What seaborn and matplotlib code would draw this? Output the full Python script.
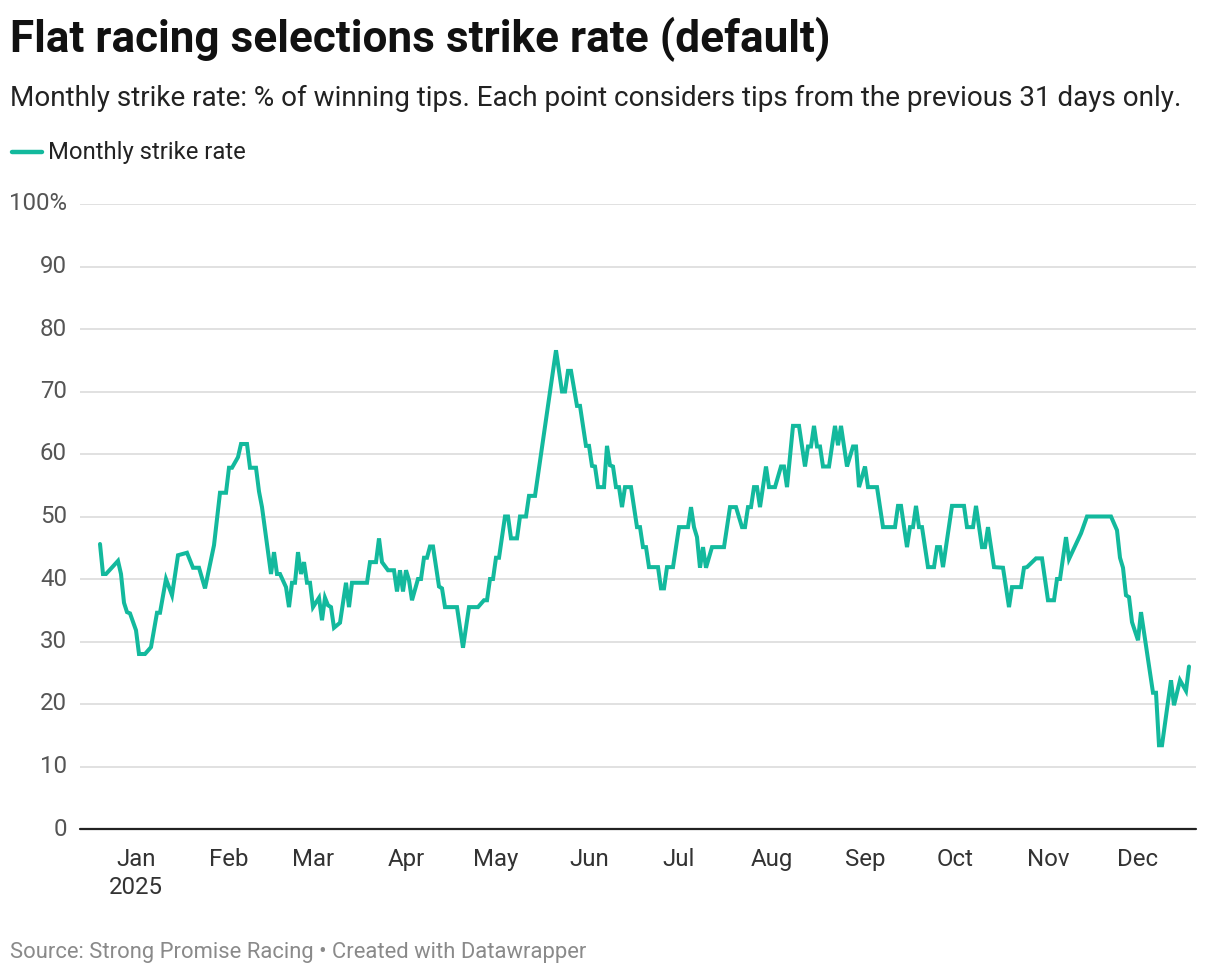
"""Flat racing selections strike rate chart"""
import matplotlib

matplotlib.use("Agg")
import matplotlib.pyplot as plt
import pandas as pd
import seaborn as sns

dates = [
    "2024-12-20", "2024-12-21", "2024-12-22", "2024-12-26", "2024-12-27", "2024-12-28",
    "2024-12-29", "2024-12-30", "2025-01-01", "2025-01-02", "2025-01-04", "2025-01-06",
    "2025-01-08", "2025-01-09", "2025-01-11", "2025-01-13", "2025-01-15", "2025-01-18",
    "2025-01-20", "2025-01-22", "2025-01-24", "2025-01-27", "2025-01-29", "2025-01-31",
    "2025-02-01", "2025-02-02", "2025-02-04", "2025-02-05", "2025-02-07", "2025-02-08",
    "2025-02-10", "2025-02-11", "2025-02-12", "2025-02-15", "2025-02-16", "2025-02-17",
    "2025-02-18", "2025-02-20", "2025-02-21", "2025-02-22", "2025-02-23", "2025-02-24",
    "2025-02-25", "2025-02-26", "2025-02-27", "2025-02-28", "2025-03-01", "2025-03-03",
    "2025-03-04", "2025-03-05", "2025-03-06", "2025-03-07", "2025-03-08", "2025-03-10",
    "2025-03-12", "2025-03-13", "2025-03-14", "2025-03-19", "2025-03-20", "2025-03-22",
    "2025-03-23", "2025-03-24", "2025-03-26", "2025-03-28", "2025-03-29", "2025-03-30",
    "2025-03-31", "2025-04-01", "2025-04-02", "2025-04-03", "2025-04-05", "2025-04-06",
    "2025-04-07", "2025-04-08", "2025-04-09", "2025-04-10", "2025-04-12", "2025-04-13",
    "2025-04-14", "2025-04-18", "2025-04-20", "2025-04-22", "2025-04-25", "2025-04-27",
    "2025-04-28", "2025-04-29", "2025-04-30", "2025-05-01", "2025-05-02", "2025-05-04",
    "2025-05-05", "2025-05-06", "2025-05-08", "2025-05-09", "2025-05-11", "2025-05-12",
    "2025-05-14", "2025-05-21", "2025-05-23", "2025-05-24", "2025-05-25", "2025-05-26",
    "2025-05-28", "2025-05-29", "2025-05-31", "2025-06-01", "2025-06-02", "2025-06-03",
    "2025-06-04", "2025-06-06", "2025-06-07", "2025-06-08", "2025-06-09", "2025-06-10",
    "2025-06-11", "2025-06-12", "2025-06-13", "2025-06-15", "2025-06-17", "2025-06-18",
    "2025-06-19", "2025-06-20", "2025-06-21", "2025-06-24", "2025-06-25", "2025-06-26",
    "2025-06-27", "2025-06-29", "2025-07-01", "2025-07-04", "2025-07-05", "2025-07-06",
    "2025-07-07", "2025-07-08", "2025-07-09", "2025-07-10", "2025-07-12", "2025-07-16",
    "2025-07-18", "2025-07-20", "2025-07-22", "2025-07-23", "2025-07-24", "2025-07-25",
    "2025-07-26", "2025-07-27", "2025-07-28", "2025-07-30", "2025-07-31", "2025-08-02",
    "2025-08-04", "2025-08-05", "2025-08-06", "2025-08-08", "2025-08-10", "2025-08-12",
    "2025-08-13", "2025-08-14", "2025-08-15", "2025-08-16", "2025-08-17", "2025-08-18",
    "2025-08-20", "2025-08-22", "2025-08-23", "2025-08-24", "2025-08-26", "2025-08-28",
    "2025-08-29", "2025-08-30", "2025-09-01", "2025-09-02", "2025-09-05", "2025-09-07",
    "2025-09-11", "2025-09-12", "2025-09-13", "2025-09-15", "2025-09-16", "2025-09-17",
    "2025-09-18", "2025-09-19", "2025-09-20", "2025-09-22", "2025-09-24", "2025-09-25",
    "2025-09-26", "2025-09-27", "2025-09-30", "2025-10-04", "2025-10-05", "2025-10-07",
    "2025-10-08", "2025-10-10", "2025-10-11", "2025-10-12", "2025-10-14", "2025-10-17",
    "2025-10-19", "2025-10-20", "2025-10-23", "2025-10-24", "2025-10-25", "2025-10-28",
    "2025-10-30", "2025-11-01", "2025-11-03", "2025-11-04", "2025-11-05", "2025-11-07",
    "2025-11-08", "2025-11-12", "2025-11-14", "2025-11-22", "2025-11-24", "2025-11-25",
    "2025-11-26", "2025-11-27", "2025-11-28", "2025-11-29", "2025-12-01", "2025-12-02",
    "2025-12-06", "2025-12-07", "2025-12-08", "2025-12-09", "2025-12-12", "2025-12-13",
    "2025-12-15", "2025-12-17", "2025-12-18",
]

strike_rate = [
    45.6, 40.8, 40.8, 42.9, 40.8, 36.2,
    34.7, 34.5, 31.8, 28.0, 28.0, 29.1,
    34.6, 34.6, 40.0, 37.4, 43.8, 44.2,
    41.8, 41.8, 38.5, 45.4, 53.8, 53.8,
    57.8, 57.8, 59.5, 61.6, 61.6, 57.8,
    57.8, 54.0, 51.5, 40.8, 44.3, 40.8,
    40.8, 38.7, 35.5, 39.4, 39.4, 44.3,
    40.8, 42.7, 39.4, 39.4, 35.5, 37.0,
    33.4, 37.0, 35.8, 35.5, 32.2, 33.0,
    39.4, 35.5, 39.4, 39.4, 42.7, 42.7,
    46.5, 42.7, 41.4, 41.4, 38.0, 41.4,
    38.0, 41.4, 39.8, 36.6, 40.0, 40.0,
    43.4, 43.4, 45.2, 45.2, 38.8, 38.5,
    35.5, 35.5, 29.0, 35.5, 35.5, 36.6,
    36.6, 40.0, 40.0, 43.4, 43.4, 50.0,
    50.0, 46.5, 46.5, 50.0, 50.0, 53.3,
    53.3, 76.6, 70.0, 70.0, 73.3, 73.3,
    67.7, 67.7, 61.3, 61.3, 58.1, 58.0,
    54.7, 54.7, 61.3, 58.2, 58.0, 54.7,
    54.7, 51.5, 54.7, 54.7, 48.3, 48.3,
    45.1, 45.1, 41.9, 41.9, 38.5, 38.5,
    41.9, 41.9, 48.3, 48.3, 51.5, 48.3,
    46.7, 41.8, 45.1, 41.8, 45.1, 45.1,
    51.5, 51.5, 48.3, 48.3, 51.5, 51.5,
    54.7, 54.7, 51.5, 58.0, 54.7, 54.7,
    58.0, 58.0, 54.7, 64.5, 64.5, 58.0,
    61.2, 61.2, 64.5, 61.2, 61.2, 58.0,
    58.0, 64.5, 61.4, 64.5, 58.0, 61.2,
    61.2, 54.7, 58.0, 54.7, 54.7, 48.3,
    48.3, 51.7, 51.7, 45.1, 48.3, 48.3,
    51.7, 48.3, 48.3, 41.9, 41.9, 45.1,
    45.1, 41.9, 51.7, 51.7, 48.3, 48.3,
    51.7, 45.1, 45.1, 48.3, 41.9, 41.8,
    35.5, 38.7, 38.7, 41.8, 41.9, 43.3,
    43.3, 36.6, 36.6, 40.0, 40.0, 46.7,
    43.2, 47.3, 50.0, 50.0, 47.8, 43.4,
    41.8, 37.4, 37.1, 33.1, 30.2, 34.7,
    21.8, 21.8, 13.4, 13.4, 23.8, 19.8,
    23.8, 22.1, 26.0,
]

month_ticks = pd.date_range("2025-01-01", "2025-12-01", freq="MS")
month_labels = ["Jan\n2025", "Feb", "Mar", "Apr", "May", "Jun",
                "Jul", "Aug", "Sep", "Oct", "Nov", "Dec"]
y_ticks = [0, 10, 20, 30, 40, 50, 60, 70, 80, 90, 100]
y_labels = ["0", "10", "20", "30", "40", "50", "60", "70", "80", "90", "100%"]

df = pd.DataFrame({"date": pd.to_datetime(dates), "rate": strike_rate})

LINE = "#13b99d"

sns.set_theme(style="white")
plt.rcParams["font.family"] = ["Roboto", "DejaVu Sans"]

fig = plt.figure(figsize=(12.2, 9.76), dpi=100)
ax = fig.add_axes([80 / 1220, 147 / 976, 1116 / 1220, 625 / 976])

sns.lineplot(data=df, x="date", y="rate", ax=ax, color=LINE, linewidth=2.9,
             solid_joinstyle="miter")

ax.set_xlim(pd.Timestamp("2024-12-13 08:00"), pd.Timestamp("2025-12-20 08:00"))
ax.set_ylim(0, 100)
ax.set_xlabel("")
ax.set_ylabel("")

for sp in ax.spines.values():
    sp.set_visible(False)

for v in y_ticks[1:]:
    ax.axhline(v, color="#d9d9d9", linewidth=1.1, zorder=0)
ax.axhline(0, color="#222222", linewidth=1.6, zorder=3, clip_on=False)

ax.set_yticks(y_ticks)
ax.set_yticklabels(y_labels, fontsize=17.3, color="#555555")
ax.tick_params(axis="y", length=0, pad=9.4)
for lbl in ax.get_yticklabels():
    lbl.set_verticalalignment("center")

ax.set_xticks(month_ticks)
ax.set_xticklabels(month_labels, fontsize=17.3, color="#333333", linespacing=1.25)
ax.tick_params(axis="x", length=0, pad=14)
for lbl in ax.get_xticklabels():
    lbl.set_verticalalignment("top")

fig.text(10 / 1220, 1 - 52 / 976, "Flat racing selections strike rate (default)",
         fontsize=31.8, fontweight="bold", color="#111111", va="baseline")
fig.text(10 / 1220, 1 - 106 / 976,
         "Monthly strike rate: % of winning tips. Each point considers tips from the previous 31 days only.",
         fontsize=20.1, color="#222222", va="baseline")

fig.lines.append(plt.Line2D([12 / 1220, 42 / 1220], [1 - 152 / 976, 1 - 152 / 976],
                            transform=fig.transFigure, color=LINE, linewidth=3.2))
fig.text(48 / 1220, 1 - 159 / 976, "Monthly strike rate", fontsize=17.2,
         color="#222222", va="baseline")

fig.text(10 / 1220, 1 - 958 / 976,
         "Source: Strong Promise Racing \u2022 Created with Datawrapper",
         fontsize=15.8, color="#8a8a8a", va="baseline")

fig.savefig("out.png", dpi=100)
